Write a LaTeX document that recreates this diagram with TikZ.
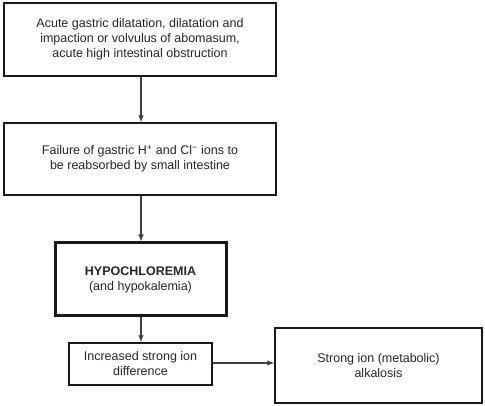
\documentclass[tikz,border=0pt]{standalone}
\usepackage{fontspec}
\setmainfont{Liberation Sans}
\usetikzlibrary{arrows.meta}
\begin{document}
\begin{tikzpicture}[x=1pt,y=-1pt,
  box/.style={draw=black!90,line width=1.4pt,rectangle,align=center,inner sep=0pt,
    font=\fontsize{12.5}{15}\selectfont,text=black!85},
  thickbox/.style={box,line width=3pt},
  conn/.style={draw=black!75,line width=1.1pt,-{Latex[length=7pt,width=5.5pt]}}]
\useasboundingbox (0,0) rectangle (485,406);
\node[box,minimum width=272pt,minimum height=73pt] (a) at (140,39.5)
  {Acute gastric dilatation, dilatation and\\impaction or volvulus of abomasum,\\acute high intestinal obstruction};
\node[box,minimum width=272pt,minimum height=72pt] (b) at (140,159)
  {Failure of gastric H\textsuperscript{+} and Cl\textsuperscript{\textminus} ions to\\be reabsorbed by small intestine};
\node[thickbox,minimum width=171pt,minimum height=73pt] (c) at (140.5,279.5)
  {\textbf{HYPOCHLOREMIA}\\(and hypokalemia)};
\node[box,minimum width=143pt,minimum height=42pt] (d) at (140.5,364)
  {Increased strong ion\\difference};
\node[box,minimum width=207pt,minimum height=75pt] (e) at (378.5,365.5)
  {Strong ion (metabolic)\\alkalosis};
\draw[conn] (a.south -| 141,0) -- (b.north -| 141,0);
\draw[conn] (b.south -| 141,0) -- (c.north -| 141,0);
\draw[conn] (c.south -| 141,0) -- (d.north -| 141,0);
\draw[conn] (d.east |- 0,363) -- (e.west |- 0,363);
\end{tikzpicture}
\end{document}
